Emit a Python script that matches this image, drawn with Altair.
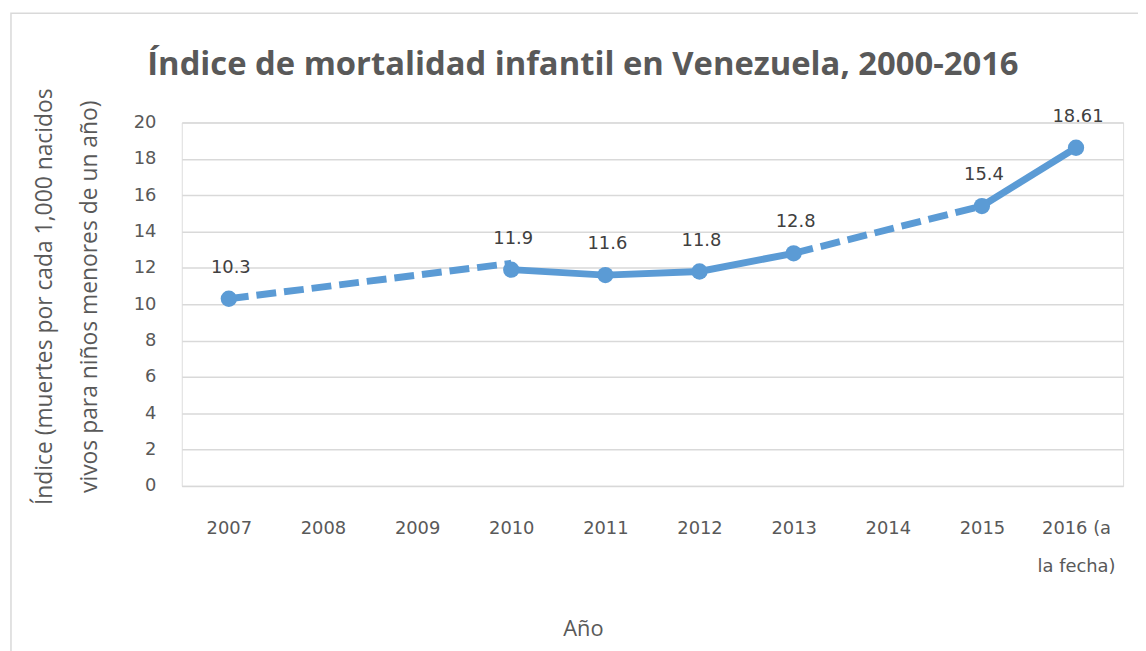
import altair as alt
import pandas as pd

# ---- data ----
title_text = ["Índice de mortalidad infantil en Venezuela, 2000-2016"]
years = ["2007", "2008", "2009", "2010", "2011", "2012", "2013", "2014", "2015", "2016"]
year_labels = ["2007", "2008", "2009", "2010", "2011", "2012", "2013", "2014", "2015", "2016 (a|la fecha)"]
y_ticks = [0, 2, 4, 6, 8, 10, 12, 14, 16, 18, 20]

pt_years = ["2007", "2010", "2011", "2012", "2013", "2015", "2016"]
pt_values = [10.3, 11.9, 11.6, 11.8, 12.8, 15.4, 18.61]
pt_labels = ["10.3", "11.9", "11.6", "11.8", "12.8", "15.4", "18.61"]
pt_segment = [0, 1, 1, 1, 1, 2, 2]

dash_years = ["2007", "2010", "2013", "2015"]
dash_values = [10.3, 12.25, 12.8, 15.4]
dash_segment = [0, 0, 1, 1]

pts = pd.DataFrame({"year": pt_years, "value": pt_values, "label": pt_labels, "seg": pt_segment})
dash = pd.DataFrame({"year": dash_years, "value": dash_values, "seg": dash_segment})
ttl = pd.DataFrame({"t": title_text})

BLUE = "#5B9BD5"
GREY = "#595959"
FONT = "Open Sans"
LFONT = "DejaVu Sans"

label_expr = "{" + ",".join(f"'{y}': split('{l}', '|')" for y, l in zip(years, year_labels)) + "}[datum.label]"

x_enc = alt.X(
    "year:N",
    sort=years,
    scale=alt.Scale(domain=years, type="point", padding=0.5),
    axis=alt.Axis(
        title="Año",
        titleFont=FONT, titleFontSize=22, titleColor=GREY, titleFontWeight="normal",
        titleX=404, titleY=134,
        labelExpr=label_expr, labelAngle=0, labelFont=LFONT, labelFontSize=18,
        labelColor=GREY, labelPadding=34, labelLineHeight=38, labelOverlap=False,
        ticks=False, domain=True, domainColor="#D9D9D9", grid=False,
    ),
)
y_enc = alt.Y(
    "value:Q",
    scale=alt.Scale(domain=[0, 20], nice=False),
    axis=alt.Axis(
        title=["Índice (muertes por cada 1,000 nacidos", "vivos para niños menores de un año)"],
        titleFont=FONT, titleFontSize=23, titleColor=GREY, titleFontWeight="normal",
        titleLineHeight=45, titleX=-126, titleY=175,
        values=y_ticks, labelFont=LFONT, labelFontSize=18, labelColor=GREY,
        labelPadding=26, labelOverlap=False, ticks=False, domain=False,
        grid=True, gridColor="#D9D9D9", gridWidth=1.5,
    ),
)

border = alt.Chart(ttl).mark_rect(fill=None, stroke="#D9D9D9", strokeWidth=1.5).encode(
    x=alt.value(-172), x2=alt.value(975), y=alt.value(-110), y2=alt.value(560)
)
title = alt.Chart(ttl).mark_text(
    font=FONT, fontSize=33, fontWeight="bold", color=GREY, baseline="alphabetic"
).encode(x=alt.value(404), y=alt.value(-48), text="t:N")

dashed = alt.Chart(dash).mark_line(color=BLUE, strokeWidth=7, strokeDash=[20, 8]).encode(
    x=x_enc, y=y_enc, detail="seg:N",
)
solid = alt.Chart(pts).mark_line(color=BLUE, strokeWidth=7).encode(
    x=x_enc, y=y_enc, detail="seg:N"
)
dots = alt.Chart(pts).mark_circle(color=BLUE, opacity=1, size=270).encode(
    x=x_enc, y=y_enc
)
labels = alt.Chart(pts).mark_text(font=LFONT, fontSize=18, color="#404040", dy=-31, dx=2).encode(
    x=x_enc, y=y_enc, text="label:N"
)

chart = alt.layer(border, title, dashed, solid, dots, labels).properties(
    width=948,
    height=366,
    autosize=alt.AutoSizeParams(type="none"),
    padding={"left": 175, "top": 113, "right": 15, "bottom": 164},
).configure_view(stroke=None).configure(background="white")

chart.save("out.html", embed_options={"renderer": "svg", "actions": False})
